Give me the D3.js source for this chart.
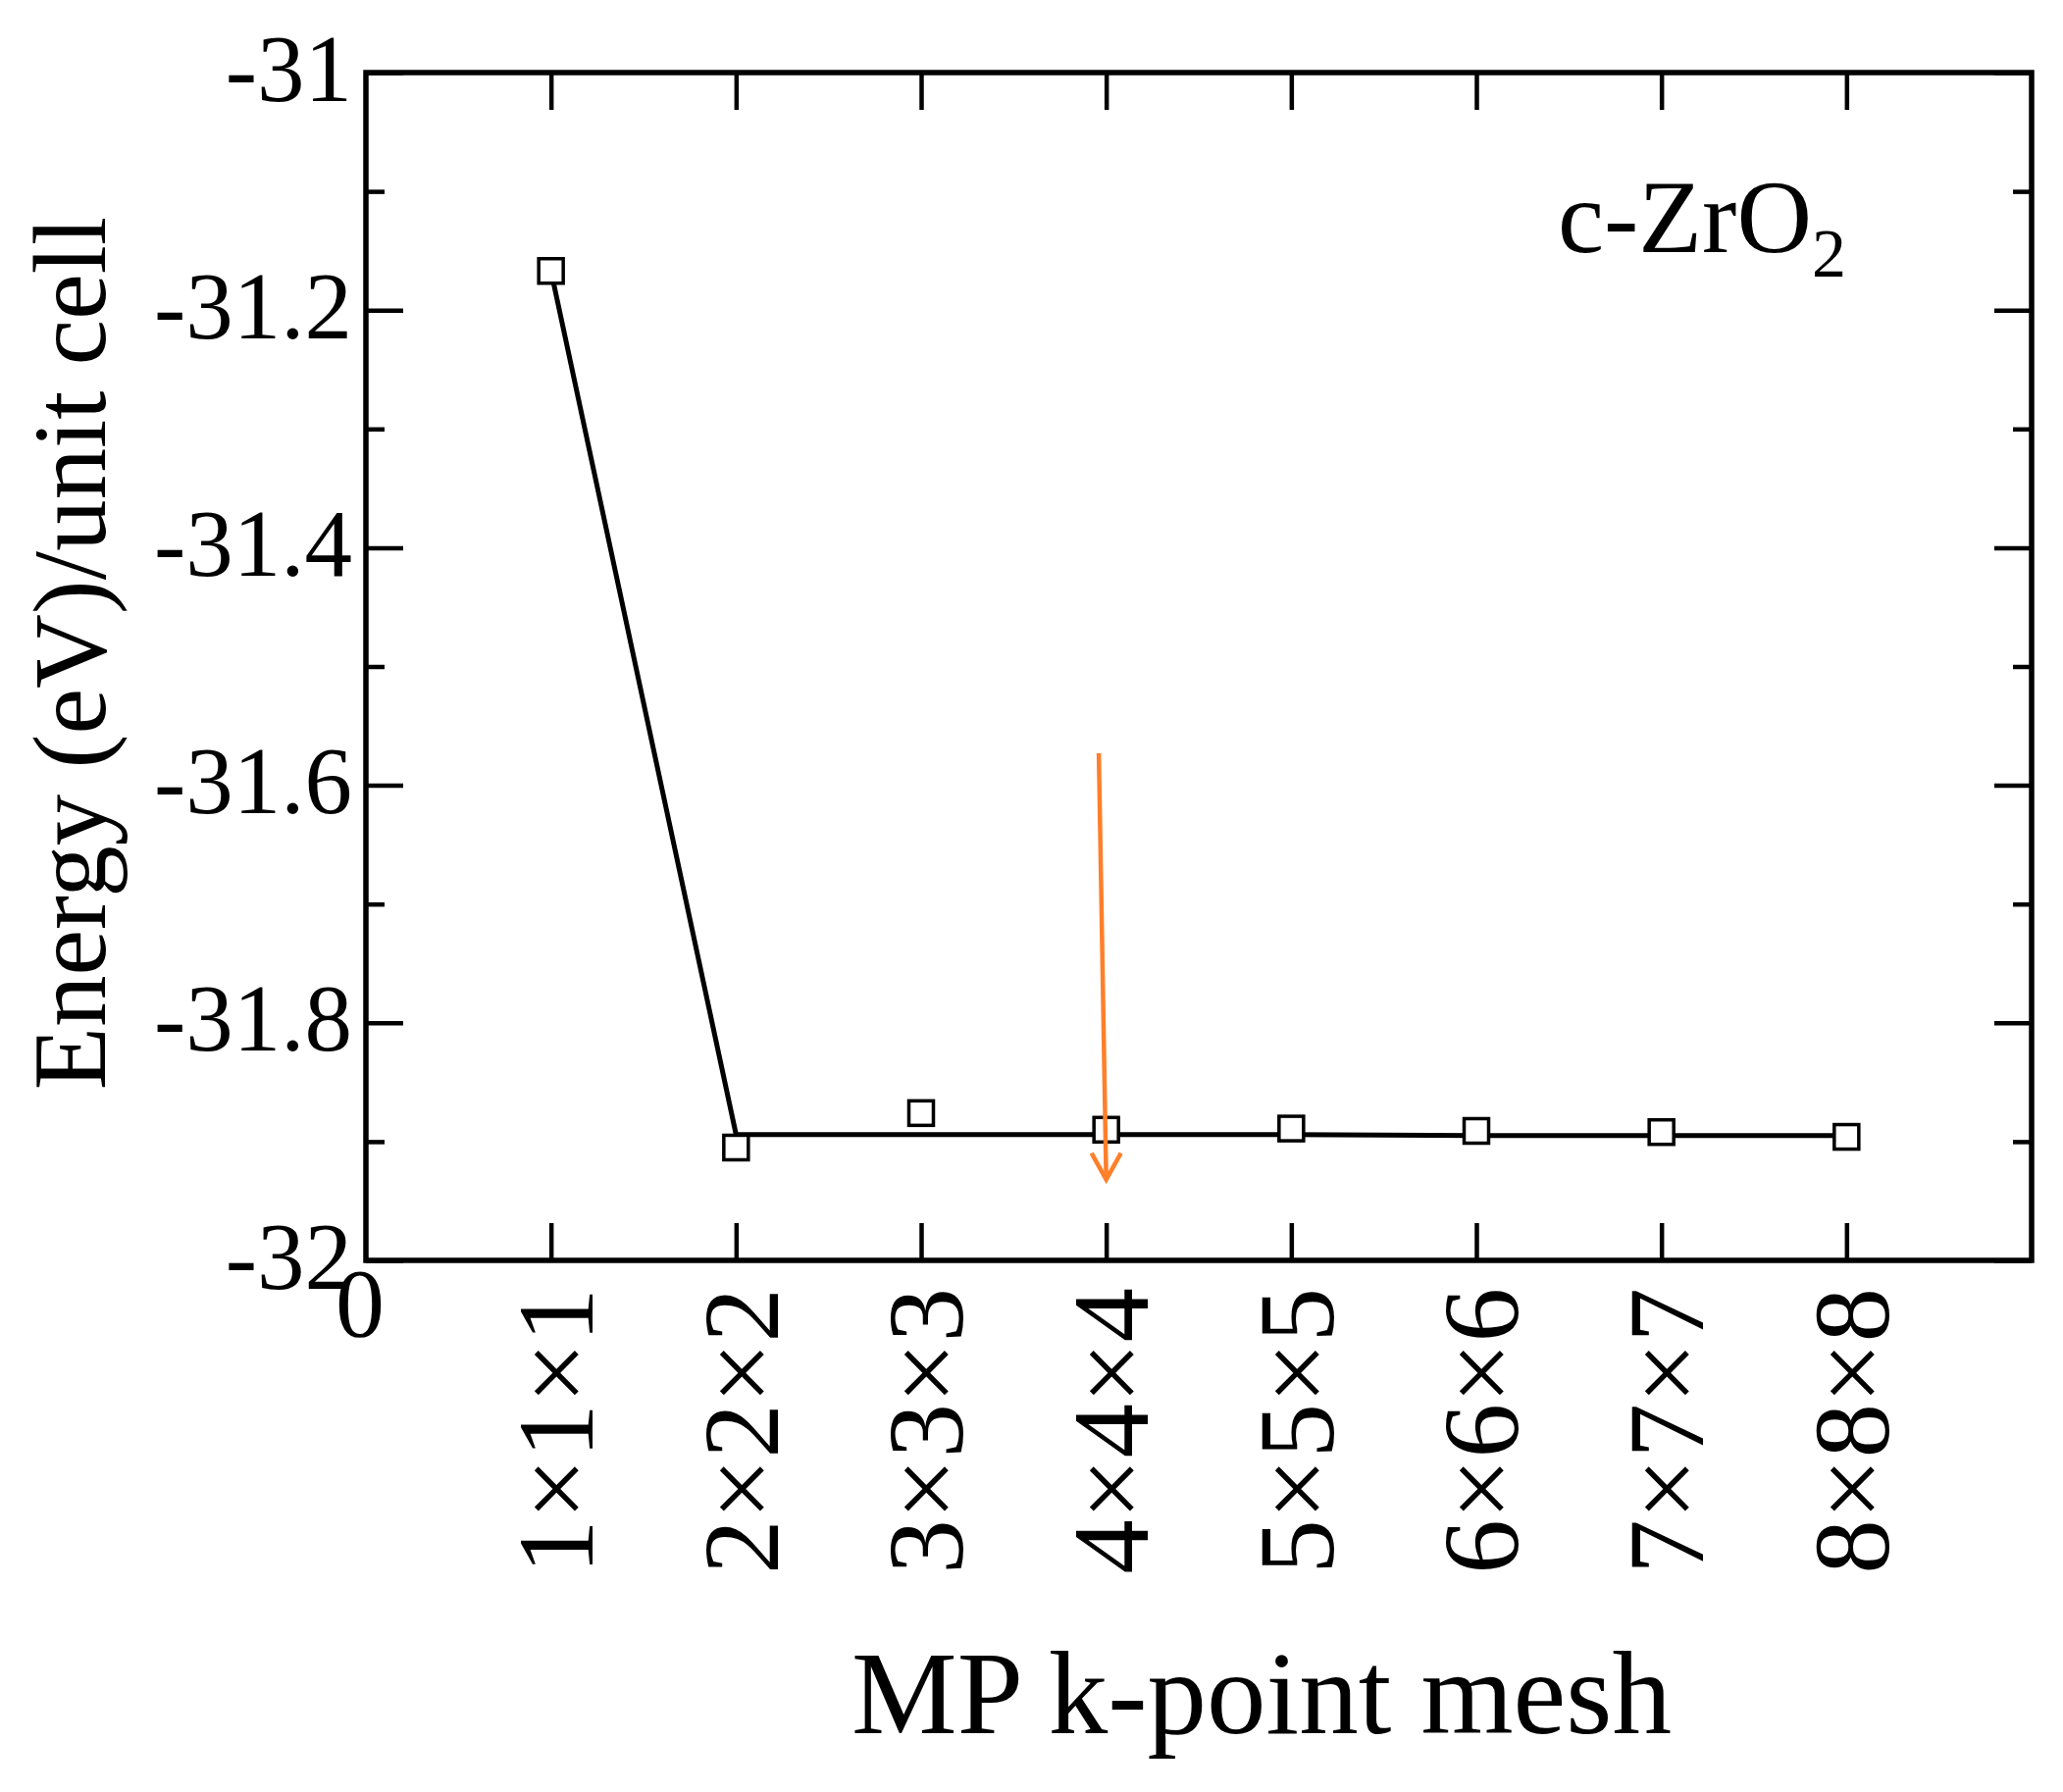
<!DOCTYPE html>
<html>
<head>
<meta charset="utf-8">
<script src="https://cdn.jsdelivr.net/npm/d3@7"></script>
<style>
  body { margin: 0; background: #fff; }
  text { font-family: "Liberation Serif", "Times New Roman", serif; fill: #000; }
</style>
</head>
<body>
<div id="chart"></div>
<script>
// Data
var meshLabels = ["1\u00d71\u00d71", "2\u00d72\u00d72", "3\u00d73\u00d73", "4\u00d74\u00d74",
                  "5\u00d75\u00d75", "6\u00d76\u00d76", "7\u00d77\u00d77", "8\u00d78\u00d78"];
var meshIndex = [1, 2, 3, 4, 5, 6, 7, 8];
var energy = [-31.167, -31.905, -31.876, -31.890, -31.889, -31.891, -31.892, -31.896];
var fitEnergy = [-31.167, -31.894, -31.894, -31.894, -31.894, -31.895, -31.895, -31.895];
var yTicks = [-31, -31.2, -31.4, -31.6, -31.8, -32];
var yTickLabels = ["-31", "-31.2", "-31.4", "-31.6", "-31.8", "-32"];
var yMinorTicks = [-31.1, -31.3, -31.5, -31.7, -31.9];
var arrowFrom = {x: 3.96, y: -31.573};
var arrowTo = {x: 4.0, y: -31.932};

// Create the graph area
var margin = {top: 74, right: 32, bottom: 542, left: 373},
    width = 2103 - margin.left - margin.right,   // 1698
    height = 1827 - margin.top - margin.bottom;  // 1211

var svg = d3.select("#chart")
    .append("svg")
        .attr("width", width + margin.left + margin.right)
        .attr("height", height + margin.top + margin.bottom)
        .append("g")
        .attr("transform", "translate(" + margin.left + "," + margin.top + ")");

// Scales
var x = d3.scaleLinear().domain([0, 9]).range([0, width]);
var y = d3.scaleLinear().domain([-32, -31]).range([height, 0]);

// Y axes (left with labels, right mirrored), ticks point inward
var yLeft = svg.append("g")
    .call(d3.axisLeft(y).tickValues(yTicks).tickSize(-38).tickSizeOuter(0)
        .tickPadding(14).tickFormat(function(d, i) { return yTickLabels[i]; }));
yLeft.selectAll("text")
    .style("font-size", "97px")
    .attr("dy", "0.29em");

svg.append("g")
    .call(d3.axisLeft(y).tickValues(yMinorTicks).tickSize(-19).tickSizeOuter(0).tickFormat(""));

svg.append("g")
    .attr("transform", "translate(" + width + ",0)")
    .call(d3.axisRight(y).tickValues(yTicks).tickSize(-38).tickSizeOuter(0).tickFormat(""));

svg.append("g")
    .attr("transform", "translate(" + width + ",0)")
    .call(d3.axisRight(y).tickValues(yMinorTicks).tickSize(-19).tickSizeOuter(0).tickFormat(""));

// X axes (bottom and top), labels drawn rotated below
svg.append("g")
    .attr("transform", "translate(0," + height + ")")
    .call(d3.axisBottom(x).tickValues(meshIndex).tickSize(-38).tickSizeOuter(0).tickFormat(""));

svg.append("g")
    .call(d3.axisTop(x).tickValues(meshIndex).tickSize(-38).tickSizeOuter(0).tickFormat(""));

svg.selectAll(".domain").remove();
svg.selectAll(".tick line")
    .attr("stroke", "#000")
    .attr("stroke-width", 4.5);

// Frame
svg.append("rect")
    .attr("x", 0)
    .attr("y", 0)
    .attr("width", width)
    .attr("height", height)
    .attr("fill", "none")
    .attr("stroke", "#000")
    .attr("stroke-width", 5.5);

// Rotated tick labels
svg.selectAll(".xlabel")
    .data(meshIndex)
    .enter()
    .append("text")
    .attr("class", "xlabel")
    .attr("transform", function(d) {
        return "translate(" + x(d) + "," + (height + 28) + ") rotate(-90)";
    })
    .attr("text-anchor", "end")
    .attr("dy", "0.38em")
    .style("font-size", "111px")
    .text(function(d, i) { return meshLabels[i]; });

svg.append("text")
    .attr("x", x(0) - 6)
    .attr("y", height + 77)
    .attr("text-anchor", "middle")
    .style("font-size", "100px")
    .text("0");

// Fit line
var line = d3.line()
    .x(function(d, i) { return x(meshIndex[i]); })
    .y(function(d) { return y(d); });

svg.append("path")
    .datum(fitEnergy)
    .attr("d", line)
    .attr("fill", "none")
    .attr("stroke", "#000")
    .attr("stroke-width", 5);

// Square markers
svg.selectAll(".pt")
    .data(energy)
    .enter()
    .append("rect")
    .attr("class", "pt")
    .attr("x", function(d, i) { return x(meshIndex[i]) - 12.5; })
    .attr("y", function(d) { return y(d) - 12.5; })
    .attr("width", 25)
    .attr("height", 25)
    .attr("fill", "#fff")
    .attr("stroke", "#000")
    .attr("stroke-width", 3.5);

// Orange arrow pointing at the converged mesh
var orange = "#ff7f2a";
var ax1 = x(arrowFrom.x), ay1 = y(arrowFrom.y),
    ax2 = x(arrowTo.x), ay2 = y(arrowTo.y);
svg.append("line")
    .attr("x1", ax1).attr("y1", ay1)
    .attr("x2", ax2).attr("y2", ay2)
    .attr("stroke", orange)
    .attr("stroke-width", 4.5);
svg.append("path")
    .attr("d", "M" + (ax2 - 15) + "," + (ay2 - 27) + "L" + ax2 + "," + ay2 + "L" + (ax2 + 15) + "," + (ay2 - 27))
    .attr("fill", "none")
    .attr("stroke", orange)
    .attr("stroke-width", 4.5);

// Compound label
var label = svg.append("text")
    .attr("x", 1588 - margin.left)
    .attr("y", 257 - margin.top)
    .style("font-size", "106px");
label.append("tspan").text("c-ZrO");
label.append("tspan").attr("dy", 25).style("font-size", "70px").text("2");

// Axis titles
svg.append("text")
    .attr("x", 1286 - margin.left)
    .attr("y", 1767 - margin.top)
    .attr("text-anchor", "middle")
    .style("font-size", "121px")
    .text("MP k-point mesh");

svg.append("text")
    .attr("transform", "translate(" + (107 - margin.left) + "," + (666 - margin.top) + ") rotate(-90)")
    .attr("text-anchor", "middle")
    .style("font-size", "105px")
    .text("Energy (eV)/unit cell");
</script>
</body>
</html>
